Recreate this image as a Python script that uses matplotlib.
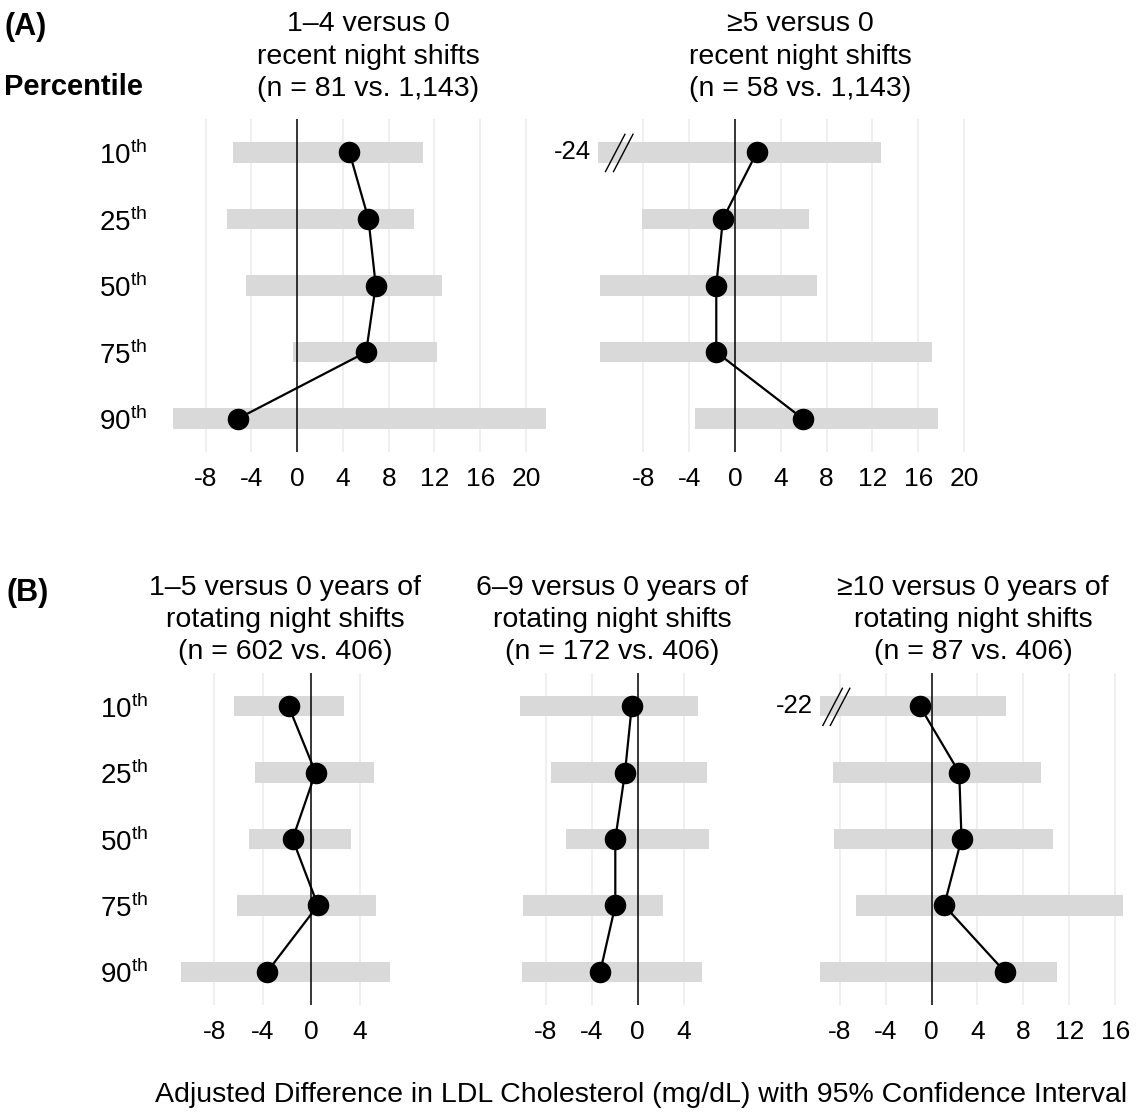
import matplotlib
matplotlib.use("Agg")
import matplotlib.pyplot as plt
import numpy as np

plt.rcParams['font.family'] = ['Liberation Sans', 'DejaVu Sans']
plt.rcParams['mathtext.fontset'] = 'custom'
plt.rcParams['mathtext.rm'] = 'Liberation Sans'

# percentiles (rows, top to bottom)
pct = ['10', '25', '50', '75', '90']

# (A) recent night shifts
a1_est = [4.57, 6.23, 6.87, 6.03, -5.18]
a1_lo = [-5.56, -6.09, -4.48, -0.38, -10.86]
a1_hi = [11.03, 10.25, 12.64, 12.25, 21.75]

a2_est = [1.91, -1.05, -1.63, -1.63, 5.92]
a2_lo = [-24, -8.07, -11.79, -11.79, -3.46]
a2_hi = [12.72, 6.50, 7.17, 17.21, 17.74]

# (B) years of rotating night shifts
b1_est = [-1.87, 0.36, -1.54, 0.55, -3.64]
b1_lo = [-6.42, -4.68, -5.15, -6.17, -10.80]
b1_hi = [2.67, 5.15, 3.31, 5.32, 6.55]

b2_est = [-0.52, -1.11, -1.95, -1.95, -3.26]
b2_lo = [-10.20, -7.56, -6.22, -9.94, -10.06]
b2_hi = [5.23, 6.02, 6.16, 2.18, 5.63]

b3_est = [-1.02, 2.41, 2.61, 1.10, 6.39]
b3_lo = [-22, -8.63, -8.52, -6.54, -9.68]
b3_hi = [6.48, 9.53, 10.58, 16.65, 10.95]

titles_a = [
    ['1\u20134 versus 0', 'recent night shifts', '(n = 81 vs. 1,143)'],
    ['\u22655 versus 0', 'recent night shifts', '(n = 58 vs. 1,143)'],
]
titles_b = [
    ['1\u20135 versus 0 years of', 'rotating night shifts', '(n = 602 vs. 406)'],
    ['6\u20139 versus 0 years of', 'rotating night shifts', '(n = 172 vs. 406)'],
    ['\u226510 versus 0 years of', 'rotating night shifts', '(n = 87 vs. 406)'],
]

W, H = 1142, 1117
fig = plt.figure(figsize=(W / 100, H / 100), dpi=100)

BAR = '#D9D9D9'
GRID = '#EBEBEB'


def make_axes(left, right, top, bottom):
    return fig.add_axes([left / W, 1 - bottom / H, (right - left) / W, (bottom - top) / H])


def draw_panel(ax, est, lo, hi, xlim, ticks, break_off=None):
    rows = np.arange(1, len(est) + 1)
    ax.set_xlim(*xlim)
    ax.set_ylim(5.5, 0.5)
    for t in ticks:
        if t != 0:
            ax.axvline(t, color=GRID, lw=1.1, zorder=0)
    lo = np.array(lo, dtype=float)
    hi = np.array(hi, dtype=float)
    ax.barh(rows, hi - lo, left=lo, height=0.31, color=BAR, zorder=1)
    ax.axvline(0, color='black', lw=1.1, zorder=2)
    ax.plot(est, rows, color='black', lw=1.6, zorder=3)
    ax.plot(est, rows, 'o', color='black', ms=14.5, zorder=4)
    # broken bars that run past the left edge
    for r, v in zip(rows, lo):
        if v < xlim[0]:
            ax.text(xlim[0] - 0.65, r, f"{v:.0f}", ha='right', va='center',
                    fontsize=18.5, clip_on=False)
            for off in break_off:
                ax.plot([xlim[0] + off, xlim[0] + off + 1.7], [r + 0.29, r - 0.27],
                        color='black', lw=1.0, clip_on=False, zorder=5)
    ax.set_xticks(ticks)
    ax.set_xticklabels([str(t) for t in ticks])
    ax.tick_params(axis='x', length=0, pad=11, labelsize=19)
    ax.set_yticks([])
    for s in ax.spines.values():
        s.set_visible(False)
    ax.patch.set_alpha(0)


def row_labels(ax, pad):
    ax.set_yticks(np.arange(1, 6))
    ax.set_yticklabels([f"{p}$^{{\\mathrm{{th}}}}$" for p in pct])
    ax.tick_params(axis='y', length=0, pad=pad, labelsize=20)


# panel A
axA1 = make_axes(154, 565, 119, 452)
draw_panel(axA1, a1_est, a1_lo, a1_hi, (-12.5, 23.4), list(range(-8, 21, 4)))
row_labels(axA1, 5)

axA2 = make_axes(598, 1002, 119, 452)
draw_panel(axA2, a2_est, a2_lo, a2_hi, (-11.95, 23.3), list(range(-8, 21, 4)),
           break_off=[0.65, 1.35])

# panel B
axB1 = make_axes(170, 401, 673, 1005)
draw_panel(axB1, b1_est, b1_lo, b1_hi, (-11.67, 7.42), [-8, -4, 0, 4])
row_labels(axB1, 16)

axB2 = make_axes(511, 718, 673, 1005)
draw_panel(axB2, b2_est, b2_lo, b2_hi, (-11.02, 6.98), [-8, -4, 0, 4])

axB3 = make_axes(820, 1137, 673, 1005)
draw_panel(axB3, b3_est, b3_lo, b3_hi, (-9.72, 17.9), list(range(-8, 17, 4)),
           break_off=[0.25, 0.9])


# titles and labels
def ftext(x, y, s, **kw):
    fig.text(x / W, 1 - y / H, s, **kw)


ftext(4, 27, '(A)', fontsize=22, fontweight='bold', va='center', ha='left')
ftext(4, 87, 'Percentile', fontsize=21, fontweight='bold', va='center', ha='left')
ftext(7, 593, '(B)', fontsize=22, fontweight='bold', va='center', ha='left')

for cx, lines in zip([368, 800], titles_a):
    for by, line in zip([31, 63.5, 95.5], lines):
        ftext(cx, by, line, fontsize=20.5, ha='center', va='baseline')

for cx, lines in zip([285, 612, 973], titles_b):
    for by, line in zip([595, 627, 659], lines):
        ftext(cx, by, line, fontsize=20.5, ha='center', va='baseline')

ftext(641, 1095, 'Adjusted Difference in LDL Cholesterol (mg/dL) with 95% Confidence Interval',
      fontsize=20.5, ha='center', va='center')

fig.savefig('out.png', dpi=100)
